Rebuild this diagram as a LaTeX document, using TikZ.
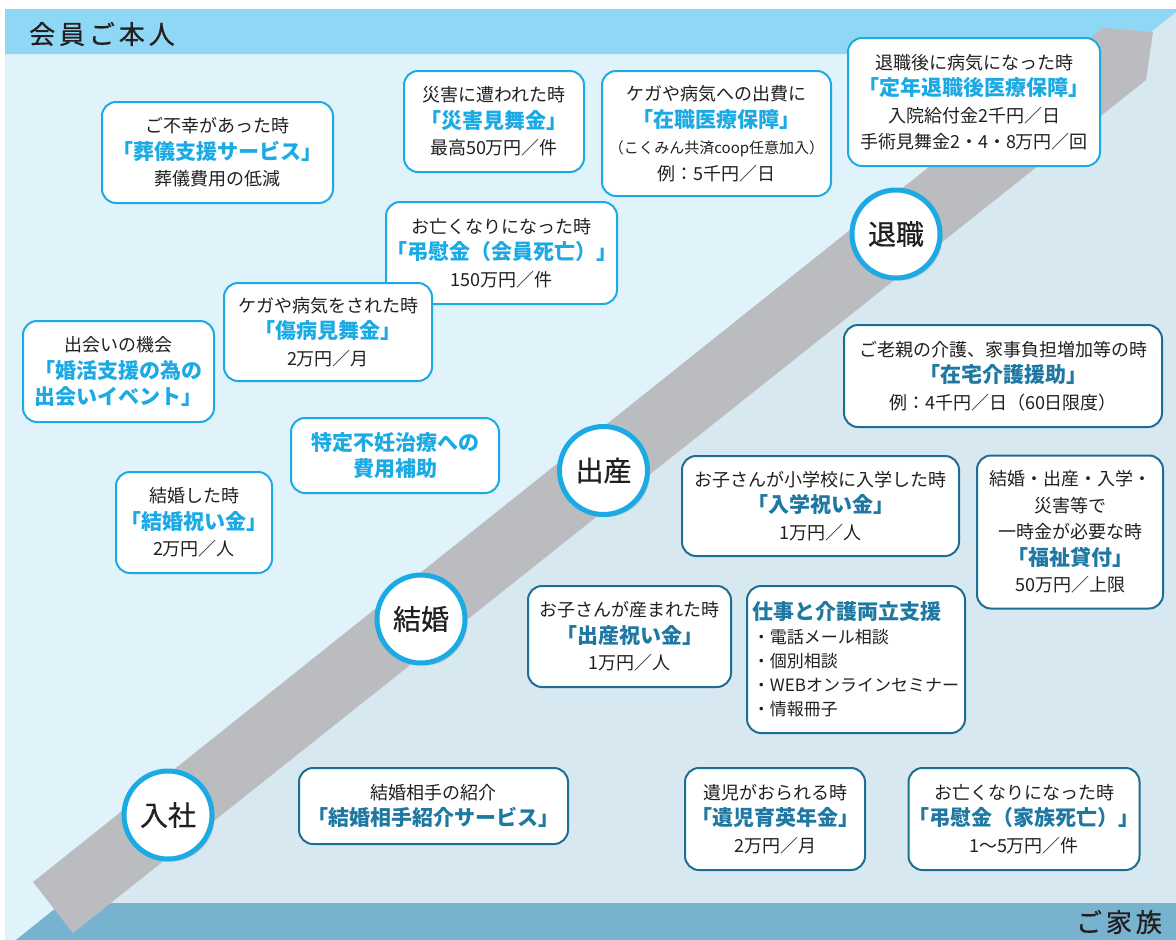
\documentclass[tikz,border=0pt]{standalone}
\usepackage{fontspec}
\setmainfont{Noto Sans CJK JP}
\newfontfamily\headfont[LetterSpace=15,FakeBold=0.6]{Noto Sans CJK JP}
\newfontfamily\stagefont[FakeBold=0.6]{Noto Sans CJK JP}
\usepackage{tikz}
\usetikzlibrary{calc}
\usetikzlibrary{shadows}
\definecolor{memblue}{RGB}{27,170,228}
\definecolor{famblue}{RGB}{29,110,147}
\definecolor{famtext}{RGB}{31,120,162}
\definecolor{ink}{RGB}{35,31,32}
\definecolor{topband}{RGB}{143,216,245}
\definecolor{membg}{RGB}{224,243,250}
\definecolor{fambg}{RGB}{215,232,241}
\definecolor{botband}{RGB}{119,179,207}
\definecolor{road}{RGB}{187,188,192}
\newcommand{\hl}[1]{{\fontsize{21}{26}\selectfont\bfseries\color{memblue}#1}}
\newcommand{\fhl}[1]{{\fontsize{21}{26}\selectfont\bfseries\color{famtext}#1}}
\newcommand{\sm}[1]{{\fontsize{15}{26}\selectfont #1}}
\tikzset{
	membox/.style={draw=memblue, fill=white, line width=2pt, rounded corners=14pt, align=center, inner sep=0pt, text=ink, font=\fontsize{18}{26.5}\selectfont},
	fambox/.style={membox, draw=famblue},
	stage/.style={circle, draw=memblue, fill=white, line width=5pt, minimum size=88pt, inner sep=0pt, text=ink, font=\stagefont\fontsize{28}{30}\selectfont, drop shadow={opacity=.35, shadow xshift=2.5pt, shadow yshift=-2.5pt}},
	band/.style={inner sep=0pt, text=ink, font=\headfont\fontsize{26}{28}\selectfont},
}
\begin{document}
\begin{tikzpicture}[x=1pt,y=-1pt]
		\useasboundingbox (0,0) rectangle (1176,940);
		\coordinate (L1) at (1176,12);
		\coordinate (L2) at (16,940);
		\fill[fambg] (5,9) rectangle (1176,940);
		\fill[membg] (5,9) -- (1176,9) -- (L1) -- (L2) -- (5,940) -- cycle;
		\fill[topband] (5,9) -- (1176,9) -- (L1) -- (1123.5,54) -- (5,54) -- cycle;
		\fill[botband] (1176,903) -- (1176,940) -- (L2) -- (62,903) -- cycle;
		\fill[road] (33,882) -- (1103,28) -- (1153,32) -- (1146,80) -- (73,933) -- cycle;
		\node[band, anchor=west] (honnin) at (29,34) {会員ご本人};
		\node[band, anchor=east] (kazoku) at (1162,922) {ご家族};
		\node[stage] (nyusha) at (168,815) {入社};
		\node[stage] (kekkon) at (421,619) {結婚};
		\node[stage] (shussan) at (603.5,470.5) {出産};
		\node[stage] (taishoku) at (896,234) {退職};
		\node[membox, minimum width=231pt, minimum height=101pt] (sogi) at (217.5,152.5) {ご不幸があった時\\\hl{「葬儀支援サービス」}\\葬儀費用の低減};
		\node[membox, minimum width=180pt, minimum height=101pt] (saigai) at (494,121.5) {災害に遭われた時\\\hl{「災害見舞金」}\\最高50万円／件};
		\node[membox, minimum width=229pt, minimum height=125pt] (zaishoku) at (716.5,133.5) {ケガや病気への出費に\\\hl{「在職医療保障」}\\\sm{（こくみん共済coop任意加入）}\\例：5千円／日};
		\node[membox, minimum width=252pt, minimum height=128pt] (teinen) at (974,102) {退職後に病気になった時\\\hl{「定年退職後医療保障」}\\入院給付金2千円／日\\手術見舞金2・4・8万円／回};
		\node[membox, minimum width=225pt, minimum height=102pt] (choimem) at (501.5,253) {お亡くなりになった時\\\hl{「弔慰金（会員死亡）」}\\150万円／件};
		\node[membox, minimum width=208pt, minimum height=98pt] (shobyo) at (328,332) {ケガや病気をされた時\\\hl{「傷病見舞金」}\\2万円／月};
		\node[membox, minimum width=191pt, minimum height=101pt] (konkatsu) at (118.5,371.5) {出会いの機会\\\hl{「婚活支援の為の}\\\hl{出会いイベント」}};
		\node[membox, minimum width=208pt, minimum height=75pt] (funin) at (395,455.5) {\hl{特定不妊治療への}\\\hl{費用補助}};
		\node[membox, minimum width=156pt, minimum height=101pt] (kekkoniwai) at (194,522.5) {結婚した時\\\hl{「結婚祝い金」}\\2万円／人};
		\node[fambox, minimum width=269pt, minimum height=76pt] (shokai) at (433.5,806) {結婚相手の紹介\\\fhl{「結婚相手紹介サービス」}};
		\node[fambox, minimum width=318pt, minimum height=102pt] (zaitaku) at (1003,376) {ご老親の介護、家事負担増加等の時\\\fhl{「在宅介護援助」}\\例：4千円／日（60日限度）};
		\node[fambox, minimum width=277pt, minimum height=100pt] (nyugaku) at (820.5,506) {お子さんが小学校に入学した時\\\fhl{「入学祝い金」}\\1万円／人};
		\node[fambox, minimum width=186pt, minimum height=153pt] (fukushi) at (1070,532) {結婚・出産・入学・\\災害等で\\一時金が必要な時\\\fhl{「福祉貸付」}\\50万円／上限};
		\node[fambox, minimum width=203pt, minimum height=101pt] (shussaniwai) at (629.5,636.5) {お子さんが産まれた時\\\fhl{「出産祝い金」}\\1万円／人};
		\node[fambox, align=left, font=\fontsize{17}{24}\selectfont, minimum width=218pt, minimum height=147pt] (ryoritsu) at (856,659.5) {\fhl{仕事と介護両立支援}\\・電話メール相談\\・個別相談\\・WEBオンラインセミナー\\・情報冊子};
		\node[fambox, minimum width=180pt, minimum height=102pt] (iji) at (775,819) {遺児がおられる時\\\fhl{「遺児育英年金」}\\2万円／月};
		\node[fambox, minimum width=226pt, minimum height=102pt] (choifam) at (1024,819) {お亡くなりになった時\\\fhl{「弔慰金（家族死亡）」}\\1～5万円／件};
	\end{tikzpicture}
\end{document}
